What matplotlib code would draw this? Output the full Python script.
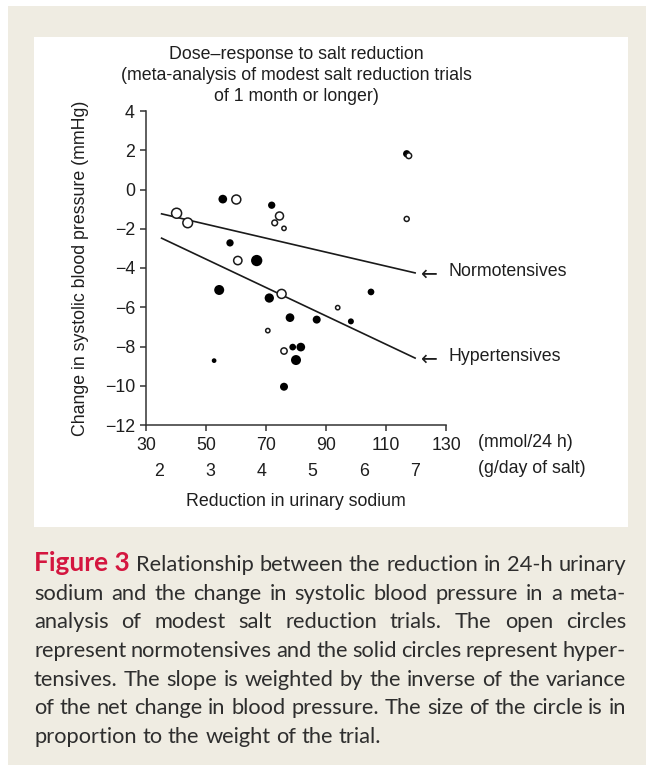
import matplotlib
matplotlib.use("Agg")
import matplotlib.pyplot as plt
from matplotlib.patches import Rectangle

plt.rcParams['font.family'] = ['Liberation Sans', 'DejaVu Sans']

# hypertensive trials (solid circles): reduction in urinary sodium (mmol/24 h), change in SBP (mmHg), weight
hyp_sodium = [55.6, 71.9, 58.0, 66.9, 116.9, 54.4, 71.1, 105.0, 78.0, 86.9, 98.3, 78.9, 81.6, 80.0, 52.7, 76.0]
hyp_sbp = [-0.49, -0.80, -2.72, -3.62, 1.82, -5.12, -5.53, -5.22, -6.53, -6.63, -6.72, -8.03, -8.03, -8.69, -8.72, -10.05]
hyp_weight = [8.7, 7.3, 7.3, 11.3, 7.3, 10.0, 9.3, 6.7, 8.7, 8.0, 6.0, 6.7, 8.7, 10.0, 4.7, 8.0]

# normotensive trials (open circles)
norm_sodium = [40.2, 43.9, 60.1, 74.5, 72.9, 76.0, 60.6, 117.6, 116.9, 75.2, 93.9, 70.6, 76.0]
norm_sbp = [-1.21, -1.70, -0.51, -1.35, -1.70, -1.98, -3.62, 1.72, -1.50, -5.32, -6.02, -7.19, -8.23]
norm_weight = [11.0, 10.7, 10.0, 9.0, 6.7, 5.3, 9.3, 6.7, 6.0, 10.0, 5.3, 5.3, 7.3]

# weighted regression lines (end points)
line_x = [35.2, 119.7]
norm_line_y = [-1.24, -4.25]
hyp_line_y = [-2.48, -8.59]

x_ticks = [30, 50, 70, 90, 110, 130]
y_ticks = [4, 2, 0, -2, -4, -6, -8, -10, -12]
salt_ticks = [2, 3, 4, 5, 6, 7]
MMOL_PER_G = 17.1

title_lines = ["Dose\u2013response to salt reduction",
               "(meta-analysis of modest salt reduction trials",
               "of 1 month or longer)"]

caption_lines = [
    "Relationship between the reduction in 24-h urinary",
    "sodium and the change in systolic blood pressure in a meta-",
    "analysis of modest salt reduction trials. The open circles",
    "represent normotensives and the solid circles represent hyper-",
    "tensives. The slope is weighted by the inverse of the variance",
    "of the net change in blood pressure. The size of the circle is in",
    "proportion to the weight of the trial.",
]

FS = 12.8
TXT = '#1e1e1e'

W, H = 652, 765
fig = plt.figure(figsize=(W / 100, H / 100), dpi=100)
fig.patch.set_facecolor('white')

# beige caption box and white chart panel
fig.add_artist(Rectangle((8 / W, 0), 638 / W, 759 / H, transform=fig.transFigure,
                         facecolor='#efece2', edgecolor='none', zorder=-3))
fig.add_artist(Rectangle((34 / W, (H - 527) / H), 594 / W, 490 / H, transform=fig.transFigure,
                         facecolor='white', edgecolor='none', zorder=-2))

ax = fig.add_axes([146 / W, (H - 425) / H, 300 / W, 314 / H])
ax.set_facecolor('none')
ax.set_xlim(30, 130)
ax.set_ylim(-12, 4)
for s in ['top', 'right']:
    ax.spines[s].set_visible(False)
for s in ['left', 'bottom']:
    ax.spines[s].set_color('#333333')
    ax.spines[s].set_linewidth(1.1)
ax.set_xticks(x_ticks)
ax.set_yticks(y_ticks)
ax.tick_params(direction='out', length=4, width=1.1, color='#333333',
               labelsize=FS, labelcolor=TXT)
ax.tick_params(axis='x', pad=5)
ax.tick_params(axis='y', pad=4)

sec = ax.secondary_xaxis('bottom', functions=(lambda m: m / MMOL_PER_G, lambda g: g * MMOL_PER_G))
sec.set_xticks(salt_ticks)
sec.tick_params(length=0, pad=27, labelsize=FS, labelcolor=TXT)
sec.spines['bottom'].set_visible(False)

ax.plot(line_x, norm_line_y, color='#1a1a1a', lw=1.2, zorder=2, clip_on=False)
ax.plot(line_x, hyp_line_y, color='#1a1a1a', lw=1.2, zorder=2, clip_on=False)

ax.scatter(hyp_sodium, hyp_sbp, s=[(0.72 * w) ** 2 for w in hyp_weight],
           color='black', linewidths=0, zorder=3, clip_on=False)
ax.scatter(norm_sodium, norm_sbp, s=[(0.72 * (w - 1)) ** 2 for w in norm_weight],
           facecolor='white', edgecolor='#1a1a1a', linewidths=1.1, zorder=4, clip_on=False)

for yend, label in [(norm_line_y[1], "Normotensives"), (hyp_line_y[1], "Hypertensives")]:
    ax.annotate("\u2190", xy=(line_x[1], yend), xytext=(4.5, -1), textcoords='offset points',
                va='center', ha='left', fontsize=14.5, family='DejaVu Sans', color=TXT)
    ax.annotate(label, xy=(line_x[1], yend), xytext=(24, 1), textcoords='offset points',
                va='center', ha='left', fontsize=FS, color=TXT)

ax.text(1.107, -0.057, "(mmol/24 h)", transform=ax.transAxes, va='center', ha='left',
        fontsize=FS, color=TXT)
ax.text(1.107, -0.137, "(g/day of salt)", transform=ax.transAxes, va='center', ha='left',
        fontsize=FS, color=TXT)

ax.set_xlabel("Reduction in urinary sodium", fontsize=FS, color=TXT)
ax.xaxis.set_label_coords(0.5, -0.218)
ax.set_ylabel("Change in systolic blood pressure (mmHg)", fontsize=FS, color=TXT)
ax.yaxis.set_label_coords(-0.19, 0.5)
for ty, line in zip([1.179, 1.112, 1.045], title_lines):
    ax.text(0.5, ty, line, transform=ax.transAxes, ha='center', va='center',
            fontsize=FS, color=TXT)

# justified caption
fig.canvas.draw()
rend = fig.canvas.get_renderer()
cap_font = ['Lato', 'DejaVu Sans']
left, right = 34, 626
probe = fig.text(0, 0, caption_lines[5], fontsize=13, family=cap_font)
fs = 13 * 590 / probe.get_window_extent(rend).width
probe.remove()

base0, step = 571, 28.7
for i, line in enumerate(caption_lines):
    y = 1 - (base0 + i * step) / H
    chunks = []
    if i == 0:
        chunks.append(fig.text(0, y, "Figure 3", fontsize=fs * 1.2, family=cap_font,
                               weight='bold', color='#d4163f', va='baseline'))
    for word in line.split(' '):
        chunks.append(fig.text(0, y, word, fontsize=fs, family=cap_font,
                               color='#2e2e2e', va='baseline'))
    widths = [t.get_window_extent(rend).width for t in chunks]
    if i == len(caption_lines) - 1:
        gap = fs * 100 / 72 * 0.26
    else:
        gap = (right - left - sum(widths)) / (len(chunks) - 1)
    x = left
    for t, w in zip(chunks, widths):
        t.set_x(x / W)
        x += w + gap

fig.savefig("out.png", dpi=100)
